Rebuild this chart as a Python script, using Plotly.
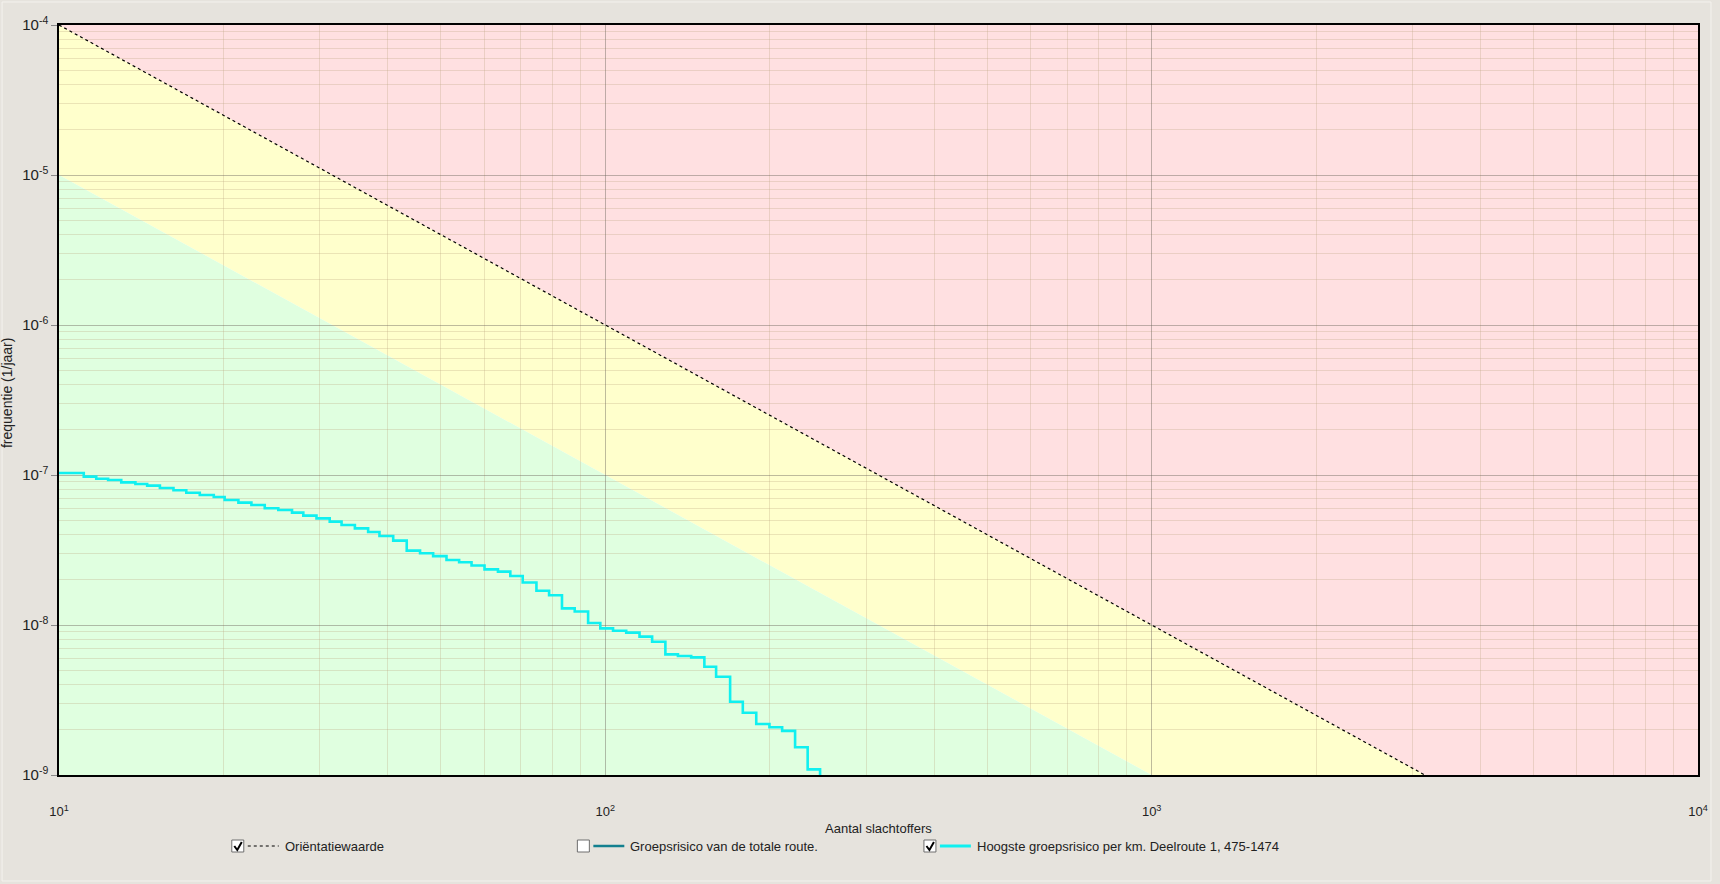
import plotly.graph_objects as go

# Highest group risk per km (fN-curve)
n_victims = [10, 11.1, 11.7, 12.3, 13.0, 13.8, 14.5, 15.3, 16.2, 17.1,
             18.1, 19.2, 20.1, 21.3, 22.5, 23.8, 25.2, 26.7, 28.0, 29.6,
             31.3, 32.9, 34.8, 36.8, 38.6, 40.9, 43.3, 45.8, 48.4, 51.2,
             54.0, 56.9, 60.1, 63.6, 67.0, 70.6, 74.8, 78.9, 83.3, 87.9,
             93.0, 97.9, 103.3, 109.2, 115.5, 121.8, 128.8, 135.8, 143.6, 151.8,
             159.5, 169.2, 178.5, 188.9, 199.7, 210.7, 222.5, 234.6, 247.2]
freq = [1.03e-7, 9.75e-8, 9.45e-8, 9.27e-8, 8.93e-8, 8.71e-8, 8.49e-8, 8.19e-8, 7.91e-8, 7.62e-8,
        7.36e-8, 7.13e-8, 6.81e-8, 6.54e-8, 6.31e-8, 6.00e-8, 5.85e-8, 5.61e-8, 5.36e-8, 5.14e-8,
        4.89e-8, 4.64e-8, 4.41e-8, 4.17e-8, 3.92e-8, 3.65e-8, 3.13e-8, 3.01e-8, 2.88e-8, 2.71e-8,
        2.62e-8, 2.49e-8, 2.35e-8, 2.27e-8, 2.12e-8, 1.92e-8, 1.69e-8, 1.58e-8, 1.29e-8, 1.23e-8,
        1.03e-8, 9.50e-9, 9.16e-9, 8.89e-9, 8.36e-9, 7.74e-9, 6.37e-9, 6.21e-9, 6.08e-9, 5.27e-9,
        4.52e-9, 3.08e-9, 2.60e-9, 2.19e-9, 2.08e-9, 1.97e-9, 1.53e-9, 1.09e-9, 1e-10]

# orientation value line and the line one decade below it
orient_n = [10, 3162.28]
orient_f = [1e-4, 1e-9]
lower_n = [10, 1000]
lower_f = [1e-5, 1e-9]

x_range = [10, 10000]
y_range = [1e-9, 1e-4]

x_ticks = [10, 100, 1000, 10000]
x_ticktext = ['10<sup>1</sup>', '10<sup>2</sup>', '10<sup>3</sup>', '10<sup>4</sup>']
y_ticks = [1e-9, 1e-8, 1e-7, 1e-6, 1e-5, 1e-4]
y_ticktext = ['10<sup>-9</sup>', '10<sup>-8</sup>', '10<sup>-7</sup>',
              '10<sup>-6</sup>', '10<sup>-5</sup>', '10<sup>-4</sup>']

legend_labels = ['Oriëntatiewaarde', 'Groepsrisico van de totale route.',
                 'Hoogste groepsrisico per km. Deelroute 1, 475-1474']
legend_checked = [True, False, True]

FONT = 'Liberation Sans, Arial, sans-serif'
BG = '#E6E3DD'
CYAN = '#10F0F0'
TEAL = '#13808F'

# plot area in pixels
PL, PR, PT, PB = 59, 1700, 25, 775


def px(x):
    return (x - PL) / (PR - PL)


def py(y):
    return (PB - y) / (PB - PT)


def path(points):
    return 'M ' + ' L '.join(f'{a:.12f},{b:.12f}' for a, b in points) + ' Z'


fig = go.Figure()

# coloured risk zones (below the grid)
red_zone = [(orient_n[0], orient_f[0]), (x_range[1], y_range[1]),
            (x_range[1], y_range[0]), (orient_n[1], orient_f[1])]
yellow_zone = [(orient_n[0], orient_f[0]), (orient_n[1], orient_f[1]),
               (lower_n[1], lower_f[1]), (lower_n[0], lower_f[0])]
green_zone = [(lower_n[0], lower_f[0]), (lower_n[1], lower_f[1]),
              (x_range[0], y_range[0])]
for zone, col in [(red_zone, '#FFE0E1'), (yellow_zone, '#FFFFCC'), (green_zone, '#E0FFE0')]:
    fig.add_shape(type='path', path=path(zone), xref='x', yref='y',
                  fillcolor=col, line=dict(width=0), layer='below')

fig.add_trace(go.Scatter(
    x=orient_n, y=orient_f, mode='lines',
    line=dict(color='black', width=1.2, dash='3px,3px'),
    showlegend=False, hoverinfo='skip'
))

fig.add_trace(go.Scatter(
    x=n_victims, y=freq, mode='lines', line_shape='hv',
    line=dict(color=CYAN, width=2.6),
    showlegend=False
))

minor_x = [m * 10 ** k for k in range(1, 4) for m in range(2, 10)]
minor_y = [m * 10.0 ** k for k in range(-9, -4) for m in range(2, 10)]

fig.update_xaxes(
    type='log', range=[1, 4],
    tickvals=x_ticks, ticktext=x_ticktext, ticks='',
    ticklabelstandoff=24,
    tickfont=dict(size=13, color='#222222', family=FONT),
    showgrid=True, gridcolor='rgba(110,105,95,0.45)', gridwidth=1,
    minor=dict(tickvals=minor_x, showgrid=True, gridcolor='rgba(190,165,130,0.3)', gridwidth=1),
    showline=True, linecolor='black', linewidth=1.5, mirror=True,
    zeroline=False
)
fig.update_yaxes(
    type='log', range=[-9, -4],
    tickvals=y_ticks, ticktext=y_ticktext,
    ticks='outside', ticklen=6, tickcolor='#8A8A8A',
    tickfont=dict(size=15, color='#222222', family=FONT),
    showgrid=True, gridcolor='rgba(110,105,95,0.45)', gridwidth=1,
    minor=dict(tickvals=minor_y, showgrid=True, gridcolor='rgba(190,165,130,0.3)', gridwidth=1),
    showline=True, linecolor='black', linewidth=1.5, mirror=True,
    zeroline=False
)

annotations = [
    dict(text='frequentie (1/jaar)', x=px(7), y=py(393), xref='paper', yref='paper',
         textangle=-90, showarrow=False, xanchor='center', yanchor='middle',
         font=dict(size=14, color='#222222', family=FONT)),
    dict(text='Aantal slachtoffers', x=0.5, y=py(828), xref='paper', yref='paper',
         showarrow=False, xanchor='center', yanchor='middle',
         font=dict(size=13, color='#222222', family=FONT)),
]

# custom legend with check boxes
box_x = [232, 578, 925]
leg_y = 846
sample_styles = [dict(color='black', width=1.2, dash='3px,3px'),
                 dict(color=TEAL, width=2.5),
                 dict(color=CYAN, width=3)]
shapes = []
for bx, label, checked, style in zip(box_x, legend_labels, legend_checked, sample_styles):
    shapes.append(dict(type='rect', xref='paper', yref='paper',
                       x0=px(bx), x1=px(bx + 12), y0=py(leg_y - 6), y1=py(leg_y + 6),
                       fillcolor='white', line=dict(color='#6E6E6E', width=1)))
    if checked:
        shapes.append(dict(type='path', xref='paper', yref='paper',
                           path=f'M {px(bx + 2.5)},{py(leg_y)} L {px(bx + 5.5)},{py(leg_y + 4)} '
                                f'L {px(bx + 10)},{py(leg_y - 4)}',
                           line=dict(color='black', width=2)))
    shapes.append(dict(type='line', xref='paper', yref='paper',
                       x0=px(bx + 16), x1=px(bx + 47), y0=py(leg_y), y1=py(leg_y),
                       line=style))
    annotations.append(dict(text=label, x=px(bx + 51), y=py(leg_y), xref='paper', yref='paper',
                            showarrow=False, xanchor='left', yanchor='middle',
                            font=dict(size=13, color='#222222', family=FONT)))

# light outer frame
shapes.append(dict(type='rect', xref='paper', yref='paper',
                   x0=px(2), x1=px(1713), y0=py(2), y1=py(881),
                   line=dict(color='#F4F2EE', width=1), layer='below'))

for s in shapes:
    fig.add_shape(**s)

fig.update_layout(
    width=1720, height=884,
    margin=dict(l=PL, r=1720 - PR, t=PT, b=884 - PB),
    paper_bgcolor=BG, plot_bgcolor='white',
    font=dict(family=FONT, size=13, color='#222222'),
    annotations=annotations,
    showlegend=False
)

# no page margin, so the 1720x884 figure fills the window exactly
fig.write_html('out.html', config={'displayModeBar': False},
               post_script="document.body.style.margin='0';document.body.style.overflow='hidden';")
